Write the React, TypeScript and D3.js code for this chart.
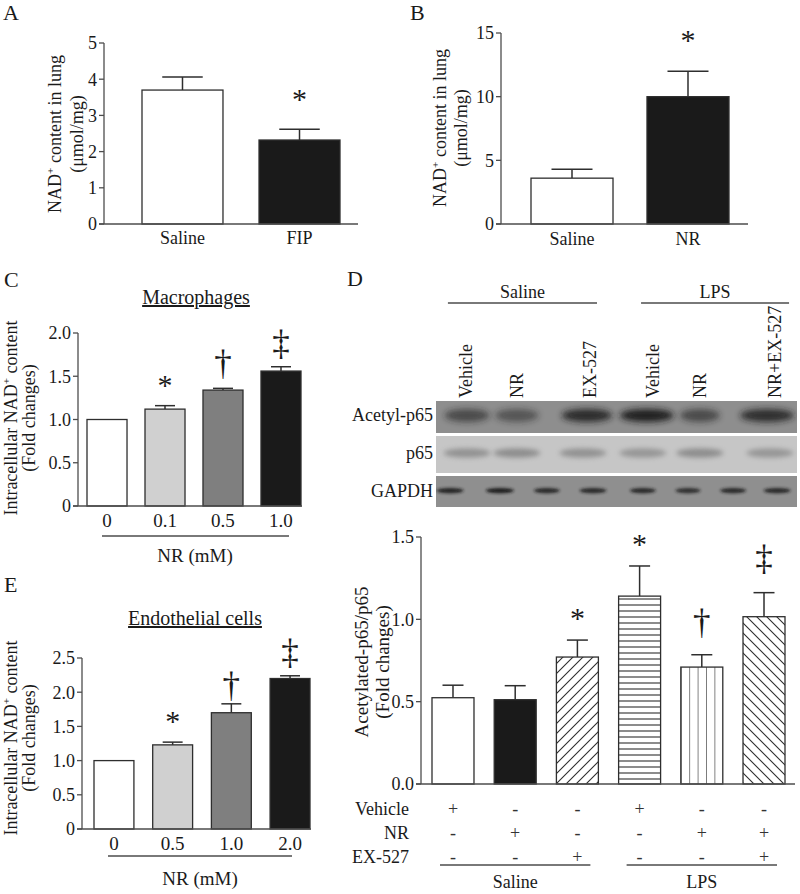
import React from 'react';
import * as d3 from 'd3';

const FONT = "'Liberation Serif','Times New Roman',Times,serif";
const INK = '#1a1a1a';
const AXIS = '#4d4d4d';
const EDGE = '#2e2e2e';
const MARK_FS = 30;
const DAG_FS = 35;

// ---------- Panel A ----------
const aCats = ['Saline', 'FIP'];
const aVals = [3.7, 2.32];
const aErr = [0.36, 0.3];
const aMarks = ['', '*'];
const aTicks = [0, 1, 2, 3, 4, 5];

// ---------- Panel B ----------
const bCats = ['Saline', 'NR'];
const bVals = [3.6, 10.0];
const bErr = [0.7, 2.0];
const bMarks = ['', '*'];
const bTicks = [0, 5, 10, 15];

// ---------- Panel C ----------
const cCats = ['0', '0.1', '0.5', '1.0'];
const cVals = [1.0, 1.12, 1.34, 1.56];
const cErr = [0, 0.04, 0.02, 0.05];
const cMarks = ['', '*', '†', '‡'];
const cTicks = [0, 0.5, 1, 1.5, 2];

// ---------- Panel E ----------
const eCats = ['0', '0.5', '1.0', '2.0'];
const eVals = [1.0, 1.23, 1.7, 2.2];
const eErr = [0, 0.04, 0.13, 0.04];
const eMarks = ['', '*', '†', '‡'];
const eTicks = [0, 0.5, 1, 1.5, 2, 2.5];

// ---------- Panel D (bars) ----------
const dCats = ['Saline-Vehicle', 'Saline-NR', 'Saline-EX-527', 'LPS-Vehicle', 'LPS-NR', 'LPS-NR+EX-527'];
const dVals = [0.524, 0.512, 0.771, 1.141, 0.71, 1.016];
const dErr = [0.076, 0.085, 0.103, 0.183, 0.075, 0.146];
const dMarks = ['', '', '*', '*', '†', '‡'];
const dTicks = [0, 0.5, 1, 1.5];
const dRowLabels = ['Vehicle', 'NR', 'EX-527'];
const dVehicle = ['+', '-', '-', '+', '-', '-'];
const dNR = ['-', '+', '-', '-', '+', '+'];
const dEX = ['-', '-', '+', '-', '-', '+'];
const dGroups = ['Saline', 'LPS'];

// ---------- Panel D (blot) ----------
const blotGroups = ['Saline', 'LPS'];
const blotLanes = ['Vehicle', 'NR', 'EX-527', 'Vehicle', 'NR', 'NR+EX-527'];
const blotLanePos = [0.083, 0.224, 0.427, 0.601, 0.731, 0.939];
const acetylPos = [0.086, 0.224, 0.418, 0.584, 0.731, 0.917];
const acetylWidth = [0.125, 0.12, 0.14, 0.15, 0.11, 0.15];
const acetylInt = [0.6, 0.5, 0.88, 0.98, 0.6, 0.85];
const p65Pos = [0.086, 0.224, 0.407, 0.573, 0.731, 0.925];
const p65Width = [0.13, 0.13, 0.13, 0.13, 0.13, 0.13];
const p65Int = [0.6, 0.65, 0.6, 0.55, 0.65, 0.55];
const gapdhPos = [0.039, 0.177, 0.307, 0.435, 0.573, 0.698, 0.823, 0.945];
const gapdhWidth = [0.075, 0.078, 0.072, 0.075, 0.072, 0.07, 0.072, 0.075];
const gapdhInt = [0.9, 0.95, 0.85, 0.85, 0.85, 0.8, 0.85, 0.85];

const grayFills = ['#ffffff', '#d0d0d0', '#7f7f7f', '#1a1a1a'];
const abFills = ['#ffffff', '#1a1a1a'];
const dFills = ['#ffffff', '#1a1a1a', 'url(#hatchUp)', 'url(#hatchH)', 'url(#hatchV)', 'url(#hatchDown)'];

const fmtInt = (d: number) => String(d);
const fmt1z = (d: number) => (d === 0 ? '0' : d.toFixed(1));
const fmt1 = (d: number) => d.toFixed(1);

function makeX(cats: string[], range: [number, number], pad: number) {
  return d3.scaleBand<string>().domain(cats).range(range).paddingInner(pad);
}

type PanelProps = {
  cats: string[]; vals: number[]; errs: number[]; marks: string[]; fills: string[];
  domain: [number, number]; ticks: number[]; fmt: (d: number) => string;
  axisX: number; yTop: number; yBottom: number; barRange: [number, number]; pad: number;
  baselineEnd: number; catLabelY?: number; catFs?: number; gaps: Record<string, number>;
};

function BarPanel(p: PanelProps) {
  const y = d3.scaleLinear().domain(p.domain).range([p.yBottom, p.yTop]);
  const x = makeX(p.cats, p.barRange, p.pad);
  const bw = x.bandwidth();
  return (
    <g>
      {p.cats.map((c, i) => {
        const x0 = x(c) as number;
        const cx = x0 + bw / 2;
        const top = y(p.vals[i]);
        const et = y(p.vals[i] + p.errs[i]);
        const m = p.marks[i];
        let mark = null;
        if (m) {
          const bottom = et - (p.gaps[m] ?? 15);
          const fs = m === '*' ? MARK_FS : DAG_FS;
          const base = m === '*' ? bottom + 0.265 * fs : bottom - 0.12 * fs;
          mark = (
            <text x={cx} y={base} textAnchor="middle" fontSize={fs} fill={INK}>{m}</text>
          );
        }
        return (
          <g key={c}>
            {p.errs[i] > 0 && (
              <g stroke={EDGE} strokeWidth={1.5}>
                <line x1={cx} x2={cx} y1={top} y2={et} />
                <line x1={cx - bw / 4} x2={cx + bw / 4} y1={et} y2={et} />
              </g>
            )}
            <rect x={x0} y={top} width={bw} height={p.yBottom - top} fill={p.fills[i]} stroke={EDGE} strokeWidth={1.3} />
            {mark}
            {p.catLabelY !== undefined && (
              <text x={cx} y={p.catLabelY} textAnchor="middle" fontSize={p.catFs ?? 18} fill={INK}>{c}</text>
            )}
          </g>
        );
      })}
      <g stroke={AXIS} strokeWidth={1.3}>
        <line x1={p.axisX} x2={p.axisX} y1={p.yTop} y2={p.yBottom} />
        <line x1={p.axisX - 5} x2={p.baselineEnd} y1={p.yBottom} y2={p.yBottom} />
        {p.ticks.map((t) => (
          <line key={t} x1={p.axisX - 5} x2={p.axisX} y1={y(t)} y2={y(t)} />
        ))}
      </g>
      {p.ticks.map((t) => (
        <text key={t} x={p.axisX - 7} y={y(t)} dy="0.35em" textAnchor="end" fontSize={18} fill={INK}>{p.fmt(t)}</text>
      ))}
    </g>
  );
}

function NadLabel({ x1, x2, cy, fs, line1pre, line1post, line2 }:
  { x1: number; x2: number; cy: number; fs: number; line1pre: string; line1post: string; line2: string }) {
  return (
    <g fill={INK} fontSize={fs}>
      <text transform={`translate(${x1},${cy}) rotate(-90)`} textAnchor="middle">
        <tspan>{line1pre}</tspan>
        <tspan dy={-fs * 0.38} fontSize={fs * 0.62}>+</tspan>
        <tspan dy={fs * 0.38}>{line1post}</tspan>
      </text>
      <text transform={`translate(${x2},${cy}) rotate(-90)`} textAnchor="middle">{line2}</text>
    </g>
  );
}

function Blot() {
  const bx = d3.scaleLinear().domain([0, 1]).range([436, 797]);
  const rows = [
    { y0: 401, y1: 433, bg: '#8e8e8e', band: '#1a1a1a', blur: 'url(#blur3)', ry: 6.5, pos: acetylPos, w: acetylWidth, k: acetylInt, label: 'Acetyl-p65', cyf: 0.45 },
    { y0: 436, y1: 473, bg: '#c6c6c6', band: '#6e6e6e', blur: 'url(#blur25)', ry: 4.5, pos: p65Pos, w: p65Width, k: p65Int, label: 'p65', cyf: 0.46 },
    { y0: 476, y1: 507, bg: '#8f8f8f', band: '#141414', blur: 'url(#blur15)', ry: 2.6, pos: gapdhPos, w: gapdhWidth, k: gapdhInt, label: 'GAPDH', cyf: 0.47 },
  ];
  const headerSpans = [[0.033, 0.446], [0.568, 0.978]];
  return (
    <g>
      {blotGroups.map((g, i) => (
        <g key={g}>
          <text x={bx((headerSpans[i][0] + headerSpans[i][1]) / 2)} y={298} textAnchor="middle" fontSize={18} fill={INK}>{g}</text>
          <line x1={bx(headerSpans[i][0])} x2={bx(headerSpans[i][1])} y1={303} y2={303} stroke={AXIS} strokeWidth={1.3} />
        </g>
      ))}
      {blotLanes.map((l, i) => (
        <text key={i} transform={`translate(${bx(blotLanePos[i]) + 6},398) rotate(-90)`} textAnchor="start" fontSize={18} fill={INK}>{l}</text>
      ))}
      {rows.map((r) => {
        const cy = r.y0 + (r.y1 - r.y0) * r.cyf;
        return (
          <g key={r.label}>
            <rect x={bx(0)} y={r.y0} width={bx(1) - bx(0)} height={r.y1 - r.y0} fill={r.bg} />
            <g clipPath={`url(#clip-${r.label})`}>
              {r.pos.map((p, i) => (
                <ellipse key={i} cx={bx(p)} cy={cy} rx={(bx(r.w[i]) - bx(0)) / 2} ry={r.ry} fill={r.band} opacity={r.k[i]} filter={r.blur} />
              ))}
            </g>
            <clipPath id={`clip-${r.label}`}>
              <rect x={bx(0)} y={r.y0} width={bx(1) - bx(0)} height={r.y1 - r.y0} />
            </clipPath>
            <text x={433} y={cy + 6} textAnchor="end" fontSize={18} fill={INK}>{r.label}</text>
          </g>
        );
      })}
    </g>
  );
}

export default function App() {
  const W = 800, H = 894;
  const dRange: [number, number] = [432, 785];
  const dPad = 0.325;
  const dx = makeX(dCats, dRange, dPad);
  const dbw = dx.bandwidth();
  const tableRows = [dVehicle, dNR, dEX];
  const tableY = [815, 839, 863];
  const groupIdx = [[0, 2], [3, 5]];

  const cx = makeX(cCats, [87, 301], 0.31);
  const ex = makeX(eCats, [94, 310], 0.32);

  return (
    <div style={{ position: 'absolute', left: 0, top: 0 }}>
      <svg width={W} height={H} viewBox={`0 0 ${W} ${H}`} style={{ display: 'block', background: '#fff' }} fontFamily={FONT}>
        <defs>
          <pattern id="hatchUp" patternUnits="userSpaceOnUse" width={10} height={10}>
            <rect width={10} height={10} fill="#fff" />
            <path d="M-2,2 L2,-2 M0,10 L10,0 M8,12 L12,8" stroke="#2e2e2e" strokeWidth={1.1} />
          </pattern>
          <pattern id="hatchDown" patternUnits="userSpaceOnUse" width={10} height={10}>
            <rect width={10} height={10} fill="#fff" />
            <path d="M-2,8 L2,12 M0,0 L10,10 M8,-2 L12,2" stroke="#2e2e2e" strokeWidth={1.1} />
          </pattern>
          <pattern id="hatchH" patternUnits="userSpaceOnUse" width={10} height={6} y={2}>
            <rect width={10} height={6} fill="#fff" />
            <path d="M0,3 L10,3" stroke="#2e2e2e" strokeWidth={1.1} />
          </pattern>
          <pattern id="hatchV" patternUnits="userSpaceOnUse" width={8.4} height={10} x={(dx(dCats[4]) as number)}>
            <rect width={8.4} height={10} fill="#fff" />
            <path d="M0,0 L0,10" stroke="#2e2e2e" strokeWidth={1.2} />
          </pattern>
          <filter id="blur3" x="-50%" y="-100%" width="200%" height="300%"><feGaussianBlur stdDeviation="3.2" /></filter>
          <filter id="blur25" x="-50%" y="-100%" width="200%" height="300%"><feGaussianBlur stdDeviation="2.6" /></filter>
          <filter id="blur15" x="-50%" y="-100%" width="200%" height="300%"><feGaussianBlur stdDeviation="1.4" /></filter>
        </defs>
        <rect width={W} height={H} fill="#fff" />

        {/* panel letters */}
        <g fontSize={22} fill={INK}>
          <text x={3} y={20}>A</text>
          <text x={410} y={20}>B</text>
          <text x={4} y={287}>C</text>
          <text x={347} y={286}>D</text>
          <text x={4} y={592}>E</text>
        </g>

        {/* Panel A */}
        <BarPanel cats={aCats} vals={aVals} errs={aErr} marks={aMarks} fills={abFills}
          domain={[0, 5]} ticks={aTicks} fmt={fmtInt} axisX={104} yTop={43} yBottom={224}
          barRange={[142, 340]} pad={0.308} baselineEnd={358} catLabelY={244} gaps={{ '*': 28 }} />
        <NadLabel x1={61} x2={83} cy={134} fs={18} line1pre="NAD" line1post=" content in lung" line2="(μmol/mg)" />

        {/* Panel B */}
        <BarPanel cats={bCats} vals={bVals} errs={bErr} marks={bMarks} fills={abFills}
          domain={[0, 15]} ticks={bTicks} fmt={fmtInt} axisX={501} yTop={33} yBottom={224}
          barRange={[531, 729]} pad={0.293} baselineEnd={748} catLabelY={245} gaps={{ '*': 29 }} />
        <NadLabel x1={446} x2={467} cy={128} fs={18} line1pre="NAD" line1post=" content in lung" line2="(μmol/mg)" />

        {/* Panel C */}
        <text x={196} y={304} textAnchor="middle" fontSize={20} fill={INK} style={{ textDecoration: 'underline' }}>Macrophages</text>
        <BarPanel cats={cCats} vals={cVals} errs={cErr} marks={cMarks} fills={grayFills}
          domain={[0, 2]} ticks={cTicks} fmt={fmt1z} axisX={78} yTop={333} yBottom={506}
          barRange={[87, 301]} pad={0.31} baselineEnd={302} catLabelY={527} catFs={19} gaps={{ '*': 19, '†': 9, '‡': 8 }} />
        <line x1={(cx(cCats[0]) as number) + 15} x2={(cx(cCats[3]) as number) + cx.bandwidth() - 12} y1={536} y2={536} stroke={AXIS} strokeWidth={1.3} />
        <text x={195} y={562} textAnchor="middle" fontSize={19} fill={INK}>NR (mM)</text>
        <NadLabel x1={17} x2={35} cy={418} fs={18} line1pre="Intracellular NAD" line1post=" content" line2="(Fold changes)" />

        {/* Panel E */}
        <text x={195} y={625} textAnchor="middle" fontSize={20} fill={INK} style={{ textDecoration: 'underline' }}>Endothelial cells</text>
        <BarPanel cats={eCats} vals={eVals} errs={eErr} marks={eMarks} fills={grayFills}
          domain={[0, 2.5]} ticks={eTicks} fmt={fmt1z} axisX={82} yTop={658} yBottom={829}
          barRange={[94, 310]} pad={0.32} baselineEnd={311} catLabelY={850} catFs={19} gaps={{ '*': 19, '†': 3, '‡': 8 }} />
        <line x1={(ex(eCats[0]) as number) + 14} x2={(ex(eCats[3]) as number) + ex.bandwidth() - 18} y1={856} y2={856} stroke={AXIS} strokeWidth={1.3} />
        <text x={200} y={885} textAnchor="middle" fontSize={19} fill={INK}>NR (mM)</text>
        <NadLabel x1={17} x2={35} cy={738} fs={18} line1pre="Intracellular NAD" line1post=" content" line2="(Fold changes)" />

        {/* Panel D blot */}
        <Blot />

        {/* Panel D bars */}
        <BarPanel cats={dCats} vals={dVals} errs={dErr} marks={dMarks} fills={dFills}
          domain={[0, 1.5]} ticks={dTicks} fmt={fmt1} axisX={421} yTop={537} yBottom={784}
          barRange={dRange} pad={dPad} baselineEnd={795} gaps={{ '*': 20, '†': 17, '‡': 18 }} />
        <g fill={INK} fontSize={19}>
          <text transform="translate(368,662) rotate(-90)" textAnchor="middle">Acetylated-p65/p65</text>
          <text transform="translate(389,662) rotate(-90)" textAnchor="middle">(Fold changes)</text>
        </g>

        {/* Panel D table */}
        <g fontSize={18} fill={INK}>
          {dRowLabels.map((l, r) => (
            <text key={l} x={409} y={tableY[r]} textAnchor="end">{l}</text>
          ))}
          {tableRows.map((row, r) =>
            row.map((s, i) => (
              <text key={`${r}-${i}`} x={(dx(dCats[i]) as number) + dbw / 2} y={tableY[r]} textAnchor="middle" fill="#333">{s}</text>
            ))
          )}
          {dGroups.map((g, gi) => {
            const x1 = (dx(dCats[groupIdx[gi][0]]) as number) + 8;
            const x2 = (dx(dCats[groupIdx[gi][1]]) as number) + dbw - 8;
            return (
              <g key={g}>
                <line x1={x1} x2={x2} y1={865} y2={865} stroke={AXIS} strokeWidth={1.3} />
                <text x={(x1 + x2) / 2} y={888} textAnchor="middle">{g}</text>
              </g>
            );
          })}
        </g>
      </svg>
    </div>
  );
}
